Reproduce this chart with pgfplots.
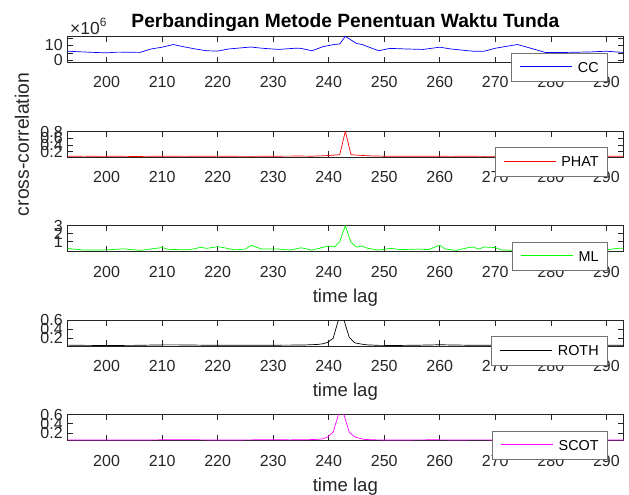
\documentclass[border=0pt]{standalone}
\usepackage{pgfplots}
\pgfplotsset{compat=1.18}
\usepackage{fontspec}
\setmainfont{Liberation Sans}
\definecolor{axgray}{rgb}{0.15,0.15,0.15}
\definecolor{mlgreen}{rgb}{0,1,0}
\definecolor{scotmag}{rgb}{1,0,1}
\pgfplotsset{myax/.style={
  scale only axis, width=555.3pt, height=25.8pt,
  xmin=193, xmax=293, xtick={200,210,...,290},
  tick align=inside, xtick pos=both, ytick pos=both,
  major tick length=5.5pt,
  axis line style={axgray, line width=0.6pt},
  tick style={axgray, line width=0.6pt},
  ticklabel style={font=\fontsize{16}{18}\selectfont, text=axgray},
  xticklabel style={anchor=center, yshift=-20.3pt},
  yticklabel style={anchor=east, xshift=-1.5pt},
  /pgf/number format/assume math mode=true,
  xlabel style={font=\fontsize{18.6}{20}\selectfont, text=axgray, at={(axis description cs:0.5,0)}, anchor=center, yshift=-46pt},
  ylabel style={font=\fontsize{19.4}{20}\selectfont, text=axgray},
  legend style={at={(0.972,0.37)}, anchor=north east, draw=black!55, line width=0.6pt, fill=white,
    font=\fontsize{14.4}{16}\selectfont, inner xsep=8.5pt, inner ysep=9pt,
    nodes={inner sep=0pt, text height=10.3pt, text depth=0pt},
    /tikz/every odd column/.append style={column sep=5pt}},
  legend cell align=left,
  legend image code/.code={\draw[#1, line width=0.9pt] (0pt,0.4pt) -- (52pt,0.4pt);},
  every axis plot/.append style={line width=0.7pt},
}}
\begin{document}
\begin{tikzpicture}
\useasboundingbox (0,0) rectangle (629pt,-495pt);
% ---------- CC ----------
\begin{axis}[myax, at={(67.7pt,-36.3pt)}, anchor=north west, clip=false,
  ymin=-1.2, ymax=16.1, ytick={0,5,10,15}, yticklabels={0,,10,},
  title={Perbandingan Metode Penentuan Waktu Tunda},
  title style={font=\bfseries\fontsize{19.2}{21}\selectfont, at={(axis description cs:0.5,1)}, anchor=base, yshift=2.5pt}]
\addplot[color=blue] coordinates {
(193,6.1)(197,5.4)(200,5.0)(202,5.5)(206,5.3)(208,7.6)(210,8.8)(212,10.6)(214,9.0)(216,7.6)(218,6.4)(220,6.2)
(222,7.6)(225,8.6)(226,8.9)(228,8.1)(231,7.3)(234,8.1)(235,8.0)(237,6.4)(239,9.2)(241,10.6)(242,11.0)(243,16.1)
(245,11.3)(246,10.6)(249,6.4)(251,8.0)(254,7.6)(257,7.3)(260,8.8)(262,7.6)(266,6.1)(268,6.1)(270,8.1)(274,10.6)
(276,8.5)(279,5.3)(283,5.3)(287,5.6)(290,6.1)(293,5.3)};
\addlegendentry{CC}
\node[anchor=base west, inner sep=0pt, text=axgray, xshift=2.3pt, yshift=1.8pt] at (rel axis cs:0,1)
  {\fontsize{17.5}{18}\selectfont ×10\raisebox{7.5pt}{\fontsize{12}{12}\selectfont 6}};
\end{axis}
% ---------- PHAT ----------
\begin{axis}[myax, at={(67.7pt,-131pt)}, anchor=north west,
  ymin=0.05, ymax=0.82, ytick={0.2,0.4,0.6,0.8},
  ylabel={cross-correlation},
  ylabel style={at={(axis description cs:-0.0823,0.48)}, anchor=center}]
\addplot[color=red] coordinates {
(193,0.065)(196,0.07)(199,0.062)(202,0.066)(205,0.06)(208,0.064)(211,0.068)(214,0.063)(217,0.066)(220,0.07)
(223,0.064)(226,0.062)(229,0.066)(232,0.07)(235,0.072)(237,0.068)(239,0.08)(240,0.09)(241,0.1)(242,0.115)
(243,0.82)(244,0.115)(245,0.1)(246,0.09)(248,0.075)(250,0.068)(253,0.066)(256,0.064)(259,0.066)(262,0.063)
(265,0.066)(268,0.062)(271,0.065)(274,0.063)(277,0.066)(280,0.062)(283,0.065)(286,0.063)(289,0.066)(292,0.064)(293,0.065)};
\addlegendentry{PHAT}
\end{axis}
% ---------- ML ----------
\begin{axis}[myax, at={(67.7pt,-225.6pt)}, anchor=north west,
  ymin=-0.2, ymax=3.0, ytick={1,2,3},
  xlabel={time lag}]
\addplot[color=mlgreen] coordinates {
(193,0.17)(196,-0.04)(200,-0.01)(203,0.12)(206,-0.07)(210,0.28)(211,0.06)(214,0.0)(215,0.02)(217,0.31)(218,0.18)
(220,0.38)(221,0.28)(223,-0.01)(225,0.09)(226,0.54)(228,0.09)(231,0.09)(233,-0.04)(235,0.25)(237,-0.04)(240,0.47)
(241,0.34)(242,1.02)(243,3.0)(244,0.95)(245,0.34)(246,0.47)(247,0.18)(249,-0.04)(250,0.06)(251,0.18)(253,0.02)
(256,0.09)(258,0.02)(260,0.57)(261,0.09)(263,-0.07)(265,0.25)(266,0.34)(267,0.09)(268,0.34)(270,0.28)(271,0.0)
(273,-0.07)(276,0.05)(279,0.1)(282,0.0)(285,0.08)(288,0.02)(290,0.0)(292,0.17)(293,0.2)};
\addlegendentry{ML}
\end{axis}
% ---------- ROTH ----------
\begin{axis}[myax, at={(67.7pt,-320pt)}, anchor=north west,
  ymin=0.035, ymax=0.6, ytick={0.2,0.4,0.6},
  xlabel={time lag}]
\addplot[color=black] coordinates {
(193,0.05)(196,0.045)(200,0.042)(205,0.045)(210,0.055)(213,0.055)(218,0.048)(222,0.045)(228,0.048)(233,0.05)
(236,0.055)(238,0.065)(239,0.08)(239.8,0.11)(240.8,0.2)(241.8,0.62)(242.7,0.62)(243.7,0.22)(244.7,0.1)(246,0.07)
(247,0.055)(249,0.045)(252,0.042)(256,0.048)(260,0.058)(264,0.05)(268,0.045)(272,0.05)(276,0.055)(280,0.045)
(285,0.05)(290,0.045)(293,0.048)};
\addlegendentry{ROTH}
\end{axis}
% ---------- SCOT ----------
\begin{axis}[myax, at={(67.7pt,-414.6pt)}, anchor=north west,
  ymin=0.035, ymax=0.6, ytick={0.2,0.4,0.6},
  xlabel={time lag}]
\addplot[color=scotmag] coordinates {
(193,0.045)(197,0.042)(200,0.044)(205,0.042)(210,0.048)(214,0.05)(218,0.046)(222,0.044)(226,0.047)(230,0.05)
(233,0.047)(236,0.05)(238,0.058)(239,0.07)(239.8,0.11)(240.8,0.215)(241.8,0.62)(242.7,0.62)(243.7,0.215)(244.7,0.11)
(246.3,0.058)(248,0.048)(251,0.044)(255,0.046)(259,0.048)(263,0.045)(267,0.047)(271,0.045)(275,0.048)(280,0.045)
(285,0.046)(290,0.044)(293,0.045)};
\addlegendentry{SCOT}
\end{axis}
\end{tikzpicture}
\end{document}
